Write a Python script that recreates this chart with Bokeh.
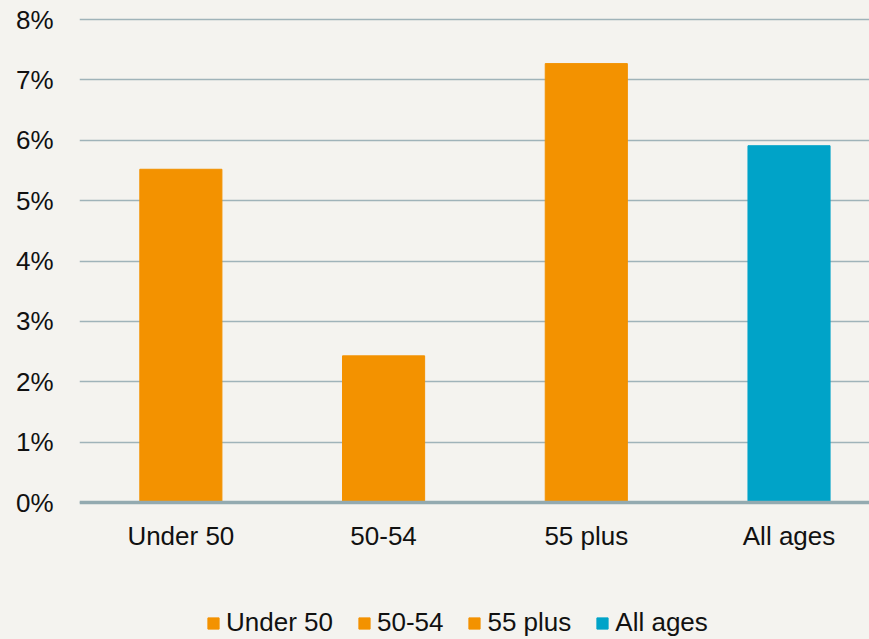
from bokeh.plotting import figure
from bokeh.models import ColumnDataSource, Range1d, Legend, FixedTicker, LegendItem
from bokeh.embed import file_html
from bokeh.resources import INLINE

categories = ["Under 50", "50-54", "55 plus", "All ages"]
values = [5.52, 2.43, 7.27, 5.91]
colors = ["#F39200", "#F39200", "#F39200", "#00A3C8"]
y_ticks = [0, 1, 2, 3, 4, 5, 6, 7, 8]
y_tick_labels = ["0%", "1%", "2%", "3%", "4%", "5%", "6%", "7%", "8%"]

FONT = "Liberation Sans"
BG = "#F4F3EF"

xs = list(range(len(categories)))
src = ColumnDataSource(dict(x=xs, top=values, color=colors, cat=categories))

p = figure(width=869, height=639, output_backend="svg", toolbar_location=None,
           x_range=Range1d(-0.5, 3.397), y_range=Range1d(-2.268, 8.1),
           min_border_left=79, min_border_right=0, min_border_top=13,
           min_border_bottom=0)
p.styles = {"background-color": BG}
p.background_fill_color = None
p.border_fill_color = None
p.outline_line_color = None

r = p.vbar(x="x", top="top", width=0.405, color="color", source=src)

p.xgrid.grid_line_color = None
p.ygrid.grid_line_color = "#9FB3B9"
p.ygrid.grid_line_width = 1.5
p.ygrid.ticker = FixedTicker(ticks=y_ticks)

p.yaxis.ticker = FixedTicker(ticks=y_ticks)
p.yaxis.major_label_overrides = {t: l for t, l in zip(y_ticks, y_tick_labels)}
p.yaxis.axis_line_color = None
p.yaxis.major_tick_line_color = None
p.yaxis.minor_tick_line_color = None
p.yaxis.major_label_standoff = 20
p.yaxis.major_label_text_font = FONT
p.yaxis.major_label_text_font_size = "26px"
p.yaxis.major_label_text_color = "#111111"

p.xaxis.fixed_location = 0
p.xaxis.ticker = FixedTicker(ticks=xs)
p.xaxis.major_label_overrides = {i: c for i, c in zip(xs, categories)}
p.xaxis.axis_line_color = "#93AAB0"
p.xaxis.axis_line_width = 3.5
p.xaxis.major_tick_line_color = None
p.xaxis.minor_tick_line_color = None
p.xaxis.major_label_standoff = 12
p.xaxis.major_label_text_font = FONT
p.xaxis.major_label_text_font_size = "26px"
p.xaxis.major_label_text_color = "#111111"

items = [LegendItem(label=c, renderers=[r], index=i) for i, c in enumerate(categories)]
legend = Legend(items=items, orientation="horizontal", location=(127, 1),
                glyph_width=14, glyph_height=14, label_standoff=6, spacing=24,
                padding=0, margin=0, border_line_color=None,
                background_fill_alpha=0, label_text_font=FONT,
                label_text_font_size="26px", label_text_color="#111111")
p.add_layout(legend, "center")

open("out.html", "w").write(file_html(p, INLINE))
